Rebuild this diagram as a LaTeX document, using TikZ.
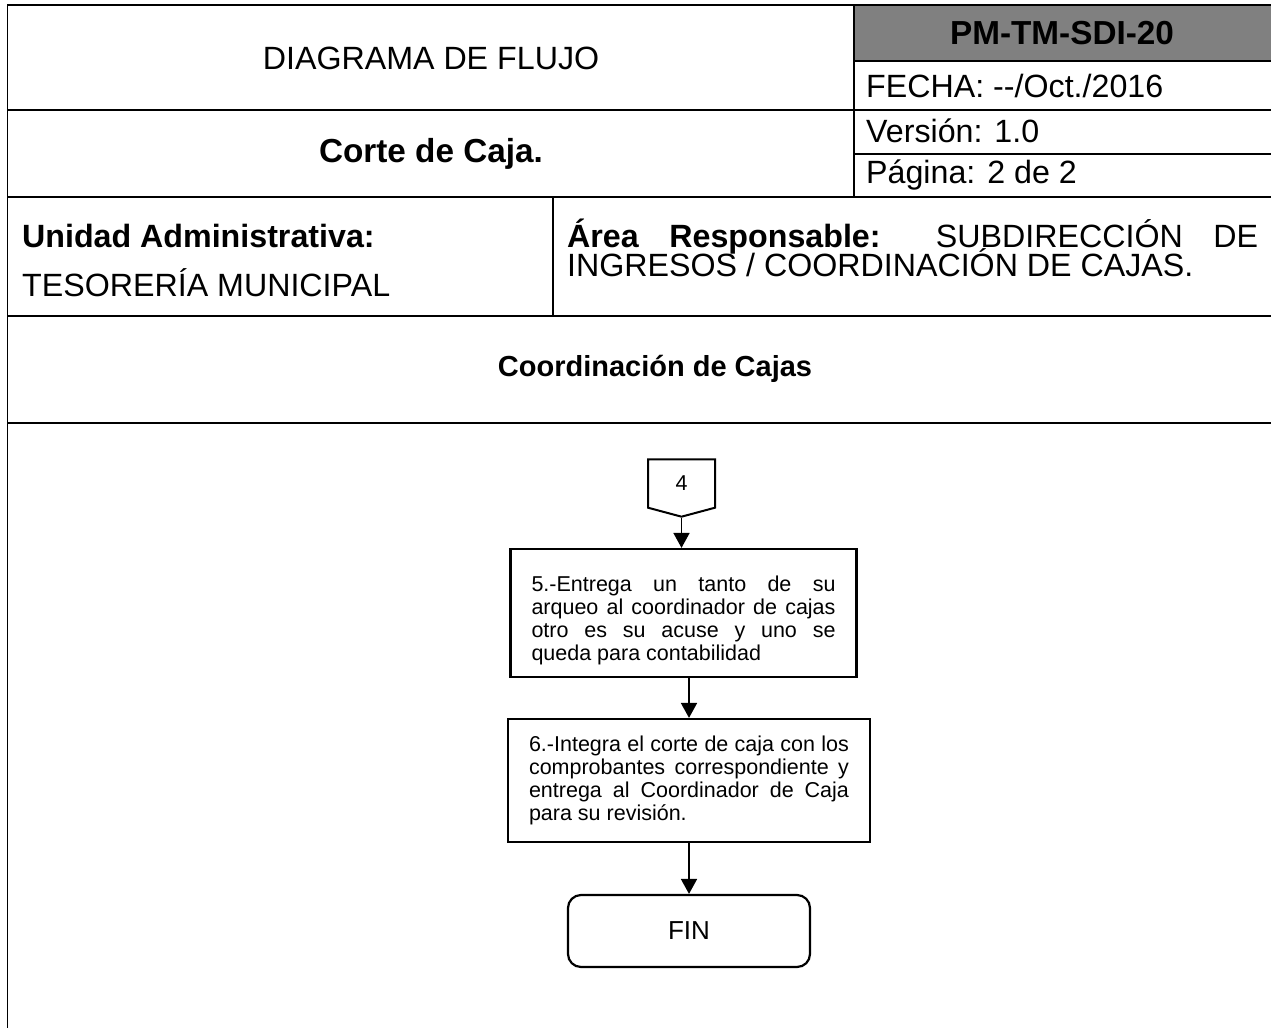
\documentclass[tikz,border=0pt]{standalone}
\usepackage{fontspec}
\setmainfont{Liberation Sans}
\usetikzlibrary{positioning, shapes.symbols, arrows.meta}
\definecolor{cellgray}{HTML}{808080}
\tikzset{
	tablerule/.style={
			line width=1.8pt
		},
	thinrule/.style={
			line width=1.1pt
		},
	headtext/.style={
			inner sep=0pt,
			font=\fontsize{32.2}{34}\selectfont
		},
	boldhead/.style={
			headtext,
			font=\fontsize{33.3}{35}\selectfont\bfseries
		}
}
\tikzset{
	procbox/.style={
			draw=black,
			line width=2.2pt,
			align=justify,
			inner xsep=21pt,
			inner ysep=0pt,
			font=\fontsize{21.5}{23}\selectfont
		},
	offpage/.style={
			draw=black,
			line width=2pt,
			signal,
			signal to=south,
			signal pointer angle=150,
			minimum width=67pt,
			minimum height=50pt,
			inner sep=0pt,
			font=\fontsize{21.5}{23}\selectfont
		},
	endnode/.style={
			draw=black,
			line width=2.2pt,
			rounded corners=13pt,
			minimum width=242pt,
			minimum height=72pt,
			font=\fontsize{26}{28}\selectfont
		},
	flowarrow/.style={
			line width=1.8pt,
			-{Triangle[length=15pt,width=16pt]}
		}
}

\begin{document}
\begin{tikzpicture}[x=1pt,y=-1pt]
              \useasboundingbox (0,0) rectangle (1271,1028);

              \fill[cellgray] (854,5) rectangle (1271,61);
              \draw[tablerule] (1271,5) -- (7.5,5) -- (7.5,1028);
              \draw[tablerule] (854,5) -- (854,197);
              \draw[thinrule] (854,61) -- (1271,61);
              \draw[thinrule] (7.5,110) -- (1271,110);
              \draw[thinrule] (854,154) -- (1271,154);
              \draw[tablerule] (7.5,197) -- (1271,197);
              \draw[thinrule] (553,197) -- (553,316);
              \draw[tablerule] (7.5,316) -- (1271,316);
              \draw[tablerule] (7.5,423) -- (1271,423);

              \node[headtext] (title) at (431,58) {DIAGRAMA DE FLUJO};
              \node[boldhead] (code) at (1062,33) {PM-TM-SDI-20};
              \node[headtext, anchor=west] (fecha) at (866,86) {FECHA: -{}-/Oct./2016};
              \node[headtext, anchor=west] (version) at (866,131) {Versión: 1.0};
              \node[headtext, anchor=west] (pagina) at (866,175) {Página: 2 de 2};
              \node[boldhead] (proc) at (431,153.5) {Corte de Caja.};
              \node[headtext, anchor=west] (unidad) at (22,236) {\bfseries Unidad Administrativa:};
              \node[headtext, anchor=west] (tesoreria) at (22,283) {TESORERÍA MUNICIPAL};
              \node[headtext, anchor=west, text width=691pt, align=justify,
                font={\fontsize{32.2}{29}\selectfont\lineskiplimit=-40pt}] (area) at (567,248)
                {\textbf{Área Responsable:} SUBDIRECCIÓN DE\linebreak INGRESOS / COORDINACIÓN DE CAJAS.};
              \node[headtext, font=\fontsize{29}{31}\selectfont\bfseries] (lane) at (655,369) {Coordinación de Cajas};

              \node[offpage] (conn4) at (681.5,483.5) {4};
              \node[procbox, text width=304pt, minimum height=128pt] (step5) at (683.5,613)
                {\rule{0pt}{31pt}5.-Entrega un tanto de su\linebreak arqueo al coordinador de cajas\linebreak otro es su acuse y uno se\linebreak queda para contabilidad};
              \node[procbox, text width=320pt, minimum height=123pt] (step6) at (689,780.5)
                {6.-Integra el corte de caja con los\linebreak comprobantes correspondiente y\linebreak entrega al Coordinador de Caja\linebreak para su revisión.};
              \node[endnode] (fin) at (689,931) {FIN};

              \draw[flowarrow] (conn4.south) -- (conn4.south |- step5.north);
              \draw[flowarrow] (step6.north |- step5.south) -- (step6.north);
              \draw[flowarrow] (step6.south) -- (fin.north);
            \end{tikzpicture}
\end{document}
